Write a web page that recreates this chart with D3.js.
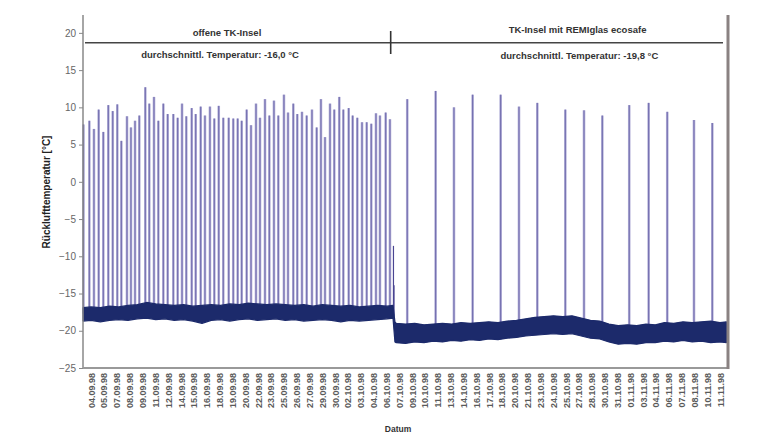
<!DOCTYPE html>
<html>
<head>
<meta charset="utf-8">
<script src="https://cdn.jsdelivr.net/npm/d3@7"></script>
<style>
  body { margin: 0; background: #fff; }
  svg text { font-family: "Liberation Sans", Arial, sans-serif; }
</style>
</head>
<body>
<div id="chart"></div>
<script>
// date labels on the x axis (every ~1.4 days)
const dateLabels = ["04.09.98","05.09.98","07.09.98","08.09.98","09.09.98","11.09.98","12.09.98","14.09.98","15.09.98","16.09.98",
  "18.09.98","19.09.98","20.09.98","22.09.98","23.09.98","25.09.98","26.09.98","27.09.98","29.09.98","30.09.98",
  "02.10.98","03.10.98","04.10.98","06.10.98","07.10.98","09.10.98","10.10.98","11.10.98","13.10.98","14.10.98",
  "16.10.98","17.10.98","18.10.98","20.10.98","21.10.98","23.10.98","24.10.98","25.10.98","27.10.98","28.10.98",
  "30.10.98","31.10.98","01.11.98","03.11.98","04.11.98","06.11.98","07.11.98","08.11.98","10.11.98","11.11.98"];
const yTicks = [-25, -20, -15, -10, -5, 0, 5, 10, 15, 20];

// defrost peaks: days since 04.09.98 and peak temperature
const spikeDays = [-0.81,-0.18,0.32,0.83,1.33,1.87,2.35,2.84,3.28,3.89,4.32,4.76,5.22,5.87,6.30,6.81,7.28,7.82,8.29,8.90,
  9.37,9.84,10.30,10.89,11.32,11.86,12.32,12.86,13.33,13.81,14.30,14.89,15.38,15.86,16.29,16.83,17.30,17.84,18.27,18.81,
  19.28,19.78,20.25,20.86,21.30,21.87,22.30,22.81,23.32,23.89,24.40,24.86,25.30,25.84,26.30,26.84,27.28,27.86,28.29,28.79,
  29.30,29.81,30.30,30.81,31.24,31.86,32.32,
  34.19,37.26,39.24,41.26,44.29,46.27,48.25,51.28,53.30,55.28,58.19,60.29,62.30,65.19,67.17];
const spikePeaks = [7.7,8.2,7.1,9.7,6.7,10.3,9.5,10.4,5.5,8.8,7.3,8.2,8.9,12.7,10.5,11.4,8.2,10.5,9.1,9.1,
  8.6,10.5,8.8,9.9,9.1,10.1,8.9,10.1,8.5,10.2,8.6,8.6,8.5,8.5,8.2,9.7,7.6,10.5,8.6,11.1,
  8.9,10.9,8.9,11.7,9.3,10.5,9.1,9.4,8.9,9.7,7.3,11.1,6.0,10.5,9.7,11.4,9.7,9.9,8.9,8.6,
  8.0,8.0,7.8,9.2,8.9,9.3,8.4,
  11.1,12.2,10.0,11.7,11.7,10.1,10.6,9.7,9.6,8.9,10.3,10.6,9.4,8.3,7.9];

// small peaks right at the changeover
const switchDays = [32.70, 32.76];
const switchPeaks = [-8.6, -13.9];

// return-air temperature band, phase 1 (open island)
const band1Days = [-0.86,0,1,2,3,4,5,6,7,8,9,10,11,12,13,14,15,16,17,18,19,20,21,22,23,24,25,26,27,28,29,30,31,32,32.65];
const band1Top = [-16.9,-16.8,-16.9,-16.7,-16.8,-16.6,-16.5,-16.2,-16.4,-16.5,-16.6,-16.5,-16.7,-16.6,-16.5,-16.6,-16.4,-16.5,
  -16.3,-16.4,-16.5,-16.4,-16.5,-16.6,-16.5,-16.7,-16.5,-16.6,-16.7,-16.6,-16.8,-16.7,-16.6,-16.7,-16.6];
const band1Bottom = [-18.7,-18.6,-18.8,-18.6,-18.5,-18.6,-18.4,-18.3,-18.5,-18.4,-18.6,-18.5,-18.7,-19.0,-18.6,-18.5,-18.7,-18.5,
  -18.4,-18.6,-18.5,-18.4,-18.6,-18.5,-18.7,-18.6,-18.5,-18.6,-18.8,-18.6,-18.7,-18.6,-18.5,-18.4,-18.3];

// phase 2 (island with REMIglas ecosafe)
const band2Days = [32.86,33,34,35,36,37,38,39,40,41,42,43,44,45,46,47,48,49,50,51,52,53,54,55,56,57,58,59,60,61,62,63,64,65,66,67,68,68.7];
const band2Top = [-18.8,-19.0,-19.1,-19.0,-19.2,-19.1,-19.0,-19.1,-18.9,-19.0,-18.9,-18.8,-18.9,-18.7,-18.6,-18.4,-18.2,-18.1,-18.0,
  -18.1,-18.0,-18.3,-18.6,-18.7,-19.1,-19.3,-19.2,-19.3,-19.1,-19.2,-18.9,-19.0,-18.8,-18.9,-18.8,-18.7,-18.9,-18.8];
const band2Bottom = [-21.5,-21.6,-21.7,-21.5,-21.6,-21.4,-21.5,-21.3,-21.4,-21.2,-21.3,-21.1,-21.2,-21.0,-20.9,-20.7,-20.6,-20.5,-20.4,
  -20.5,-20.4,-20.7,-21.0,-21.1,-21.5,-21.8,-21.7,-21.8,-21.6,-21.6,-21.4,-21.5,-21.3,-21.5,-21.4,-21.6,-21.5,-21.6];

const changeDay = 32.4;
const phases = ["offene TK-Insel", "TK-Insel mit REMIglas ecosafe"];
const averages = ["durchschnittl. Temperatur: -16,0 °C", "durchschnittl. Temperatur: -19,8 °C"];

const W = 765, H = 435;
const mLeft = 83, mRight = 727, mTop = 15, mBottom = 368;

const svg = d3.select("#chart").append("svg")
  .attr("width", W).attr("height", H);

const x = d3.scaleLinear().domain([-0.865, 68.76]).range([mLeft, mRight]);
const y = d3.scaleLinear().domain([-25, 22.4]).range([mBottom, mTop]);
const xLab = d3.scalePoint().domain(dateLabels).range([x(0), x(68)]);

const band = band1Days.map((d, i) => ({ d, t: band1Top[i], b: band1Bottom[i] }))
  .concat(band2Days.map((d, i) => ({ d, t: band2Top[i], b: band2Bottom[i] })));
const bandDays = band.map(p => p.d);
const baseAt = d => {
  const i = d3.bisectLeft(bandDays, d);
  const p = band[Math.min(Math.max(i, 0), band.length - 1)];
  return (p.t + p.b) / 2;
};

const plot = svg.append("g");

// spikes
const spikes = spikeDays.map((d, i) => ({ d, v: spikePeaks[i] }));
plot.selectAll("line.halo").data(spikes).enter().append("line")
  .attr("x1", s => x(s.d)).attr("x2", s => x(s.d))
  .attr("y1", s => y(baseAt(s.d))).attr("y2", s => y(s.v))
  .attr("stroke", "#b3b0d8").attr("stroke-width", 2.6);
plot.selectAll("line.core").data(spikes).enter().append("line")
  .attr("x1", s => x(s.d)).attr("x2", s => x(s.d))
  .attr("y1", s => y(baseAt(s.d))).attr("y2", s => y(s.v))
  .attr("stroke", "#6560a6").attr("stroke-width", 0.9);

plot.selectAll("line.sw").data(switchDays).enter().append("line")
  .attr("x1", d => x(d)).attr("x2", d => x(d))
  .attr("y1", d => y(-18)).attr("y2", (d, i) => y(switchPeaks[i]))
  .attr("stroke", "#4a4592").attr("stroke-width", 1.2);

// noisy band
const area = d3.area().x(p => x(p.d)).y0(p => y(p.b)).y1(p => y(p.t));
plot.append("path").datum(band).attr("d", area)
  .attr("fill", "#1c2a6b").attr("stroke", "#1c2a6b").attr("stroke-width", 1.2)
  .attr("stroke-linejoin", "bevel");

// axes
const yAxis = d3.axisLeft(y).tickValues(yTicks).tickSize(4).tickPadding(3);
const gy = svg.append("g").attr("transform", `translate(${mLeft},0)`).call(yAxis);
gy.select(".domain").remove();
gy.selectAll("line").attr("stroke", "#888");
gy.selectAll("text").attr("font-size", 10).attr("fill", "#666");

svg.append("line").attr("x1", mLeft).attr("x2", mLeft).attr("y1", mTop).attr("y2", mBottom)
  .attr("stroke", "#888").attr("stroke-width", 1.5);
svg.append("line").attr("x1", mLeft).attr("x2", mRight + 1).attr("y1", mBottom).attr("y2", mBottom)
  .attr("stroke", "#999").attr("stroke-width", 2);
svg.append("line").attr("x1", mRight + 1).attr("x2", mRight + 1).attr("y1", mTop).attr("y2", mBottom + 1)
  .attr("stroke", "#8a8282").attr("stroke-width", 3);

const xAxis = d3.axisBottom(xLab).tickSize(0);
const gx = svg.append("g").attr("transform", `translate(0,${mBottom + 3})`).call(xAxis);
gx.select(".domain").remove();
gx.selectAll("text")
  .attr("transform", "rotate(-90)")
  .attr("text-anchor", "end")
  .attr("x", -2).attr("y", 0).attr("dy", "0.35em")
  .attr("font-size", 9).attr("font-weight", "bold").attr("fill", "#5a5a5a");

// header
svg.append("line").attr("x1", mLeft + 2).attr("x2", mRight - 4).attr("y1", 42.7).attr("y2", 42.7)
  .attr("stroke", "#444").attr("stroke-width", 1.6);
svg.append("line").attr("x1", x(changeDay)).attr("x2", x(changeDay)).attr("y1", 31).attr("y2", 54)
  .attr("stroke", "#333").attr("stroke-width", 1.6);
const phaseX = [x(14.7), x(52.6)];
const avgX = [x(13.95), x(52.8)];
svg.selectAll("text.phase").data(phases).enter().append("text")
  .attr("x", (d, i) => phaseX[i]).attr("y", (d, i) => [36, 33][i])
  .attr("text-anchor", "middle").attr("font-size", 9.5).attr("font-weight", "bold")
  .attr("fill", "#333").text(d => d);
svg.selectAll("text.avg").data(averages).enter().append("text")
  .attr("x", (d, i) => avgX[i]).attr("y", (d, i) => [58, 59][i])
  .attr("text-anchor", "middle").attr("font-size", 9.5).attr("font-weight", "bold")
  .attr("fill", "#333").text(d => d);

// axis titles
svg.append("text").attr("transform", "translate(50,192) rotate(-90)")
  .attr("text-anchor", "middle").attr("font-size", 10).attr("font-weight", "bold")
  .attr("fill", "#222").text("Rücklufttemperatur [°C]");
svg.append("text").attr("x", 398).attr("y", 432)
  .attr("text-anchor", "middle").attr("font-size", 8.5).attr("font-weight", "bold")
  .attr("fill", "#333").text("Datum");
</script>
</body>
</html>
